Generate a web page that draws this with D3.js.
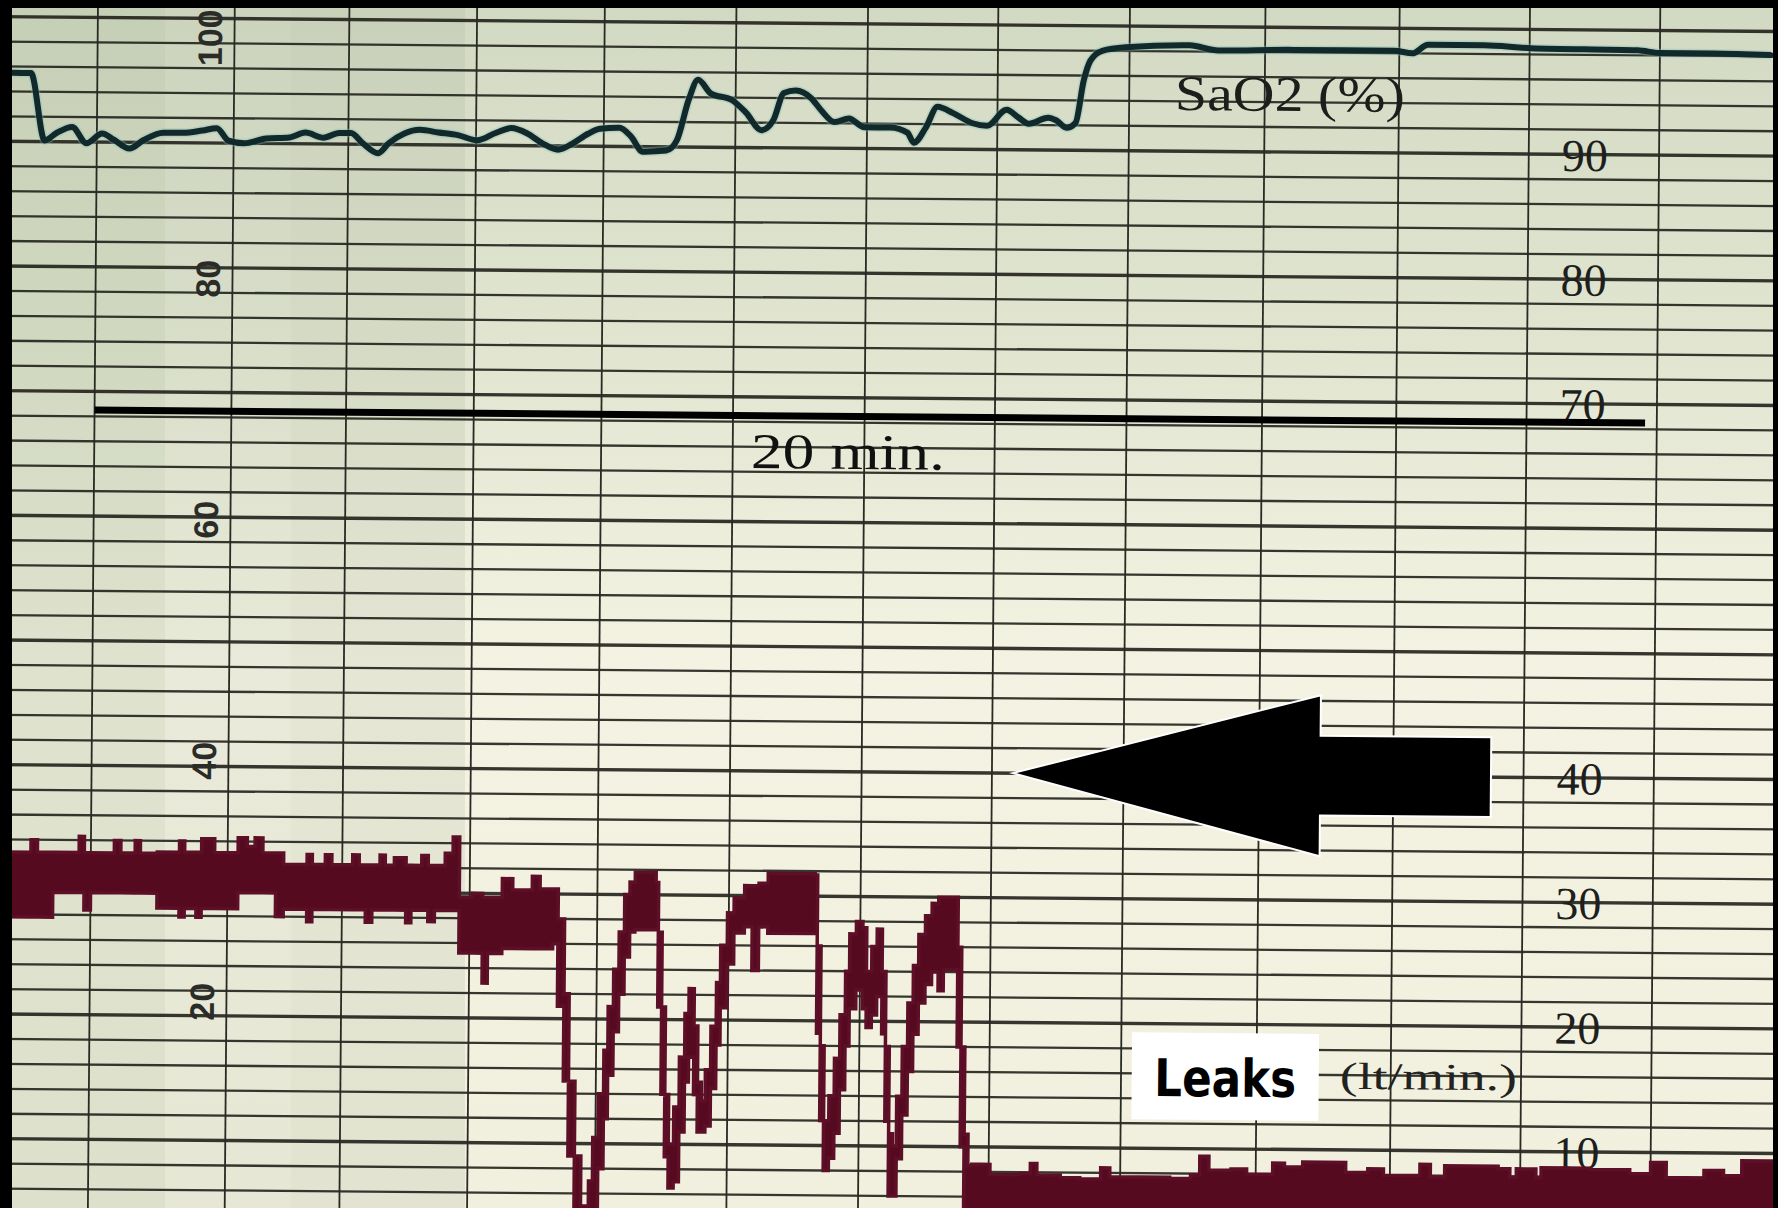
<!DOCTYPE html>
<html>
<head>
<meta charset="utf-8">
<script src="https://cdn.jsdelivr.net/npm/d3@7"></script>
<style>
  html, body { margin: 0; padding: 0; background: #000; }
  svg { display: block; }
</style>
</head>
<body>
<div id="chart"></div>
<script>
'use strict';

// time is in chart divisions (vertical grid lines), values on the recorder's 0-100 scale
const gridTimes = [0, 1.05, 1.93, 2.91, 3.89, 4.90, 5.91, 6.91, 7.92, 8.96, 9.99, 10.99, 11.99];

const sao2Time = [-0.65, -0.51, -0.40, -0.31, -0.19, -0.08, 0.04, 0.13, 0.25, 0.36, 0.51, 0.66, 0.81, 0.92,
    1.01, 1.13, 1.30, 1.48, 1.60, 1.74, 1.86, 1.95, 2.04, 2.16, 2.24, 2.36, 2.48, 2.62, 2.77, 2.92,
    3.06, 3.18, 3.30, 3.42, 3.54, 3.65, 3.77, 3.86, 4.01, 4.10, 4.19, 4.37, 4.45, 4.54, 4.61, 4.71, 4.87, 4.98,
    5.10, 5.19, 5.27, 5.36, 5.48, 5.56, 5.66, 5.77, 5.89, 6.09, 6.22, 6.27, 6.36, 6.45, 6.57, 6.72, 6.83, 6.98,
    7.07, 7.15, 7.30, 7.36, 7.44, 7.51, 7.57, 7.62, 7.71, 7.89, 8.38, 8.60, 9.18, 9.95,
    10.09, 10.21, 10.64, 11.00, 11.82, 11.99, 12.40, 12.84];
const sao2Value = [95.5, 95.5, 90.1, 90.7, 91.2, 89.9, 90.7, 90.2, 89.5, 90.2, 90.8, 90.8, 91.0, 91.2,
    90.2, 90.0, 90.4, 90.5, 90.9, 90.5, 90.9, 90.9, 90.1, 89.3, 90.1, 90.9, 91.2, 91.0, 90.8, 90.4,
    91.0, 91.4, 91.0, 90.2, 89.7, 90.2, 91.0, 91.4, 91.5, 90.8, 89.6, 89.7, 90.5, 93.8, 95.4, 94.3, 93.8, 92.8,
    91.4, 92.2, 94.4, 94.6, 94.0, 93.0, 92.1, 92.4, 91.7, 91.7, 91.3, 90.5, 91.7, 93.4, 92.9, 92.1, 91.9, 93.2,
    92.6, 92.1, 92.6, 92.4, 91.8, 92.2, 95.6, 97.2, 98.0, 98.3, 98.5, 98.1, 98.2, 98.2,
    98.0, 98.7, 98.7, 98.5, 98.4, 98.2, 98.2, 98.1];

// leak trace: upper and lower edge of the recorded band
const leakTime = [-0.66, -0.46, -0.41, -0.29, -0.09, -0.05, 0.00, 0.18, 0.23, 0.34, 0.38,
    0.51, 0.68, 0.72, 0.81, 0.85, 0.95, 1.13, 1.20, 1.26, 1.32, 1.42,
    1.48, 1.66, 1.70, 1.80, 1.85, 2.01, 2.06, 2.11, 2.16, 2.22, 2.26, 2.33, 2.42, 2.46, 2.54, 2.59, 2.64, 2.72, 2.78,
    2.83, 2.93, 3.01, 3.05, 3.16, 3.24, 3.39, 3.45, 3.55,
    3.59, 3.64, 3.68, 3.73, 3.78, 3.84, 3.87, 3.91, 3.95, 3.98, 4.02, 4.06, 4.10, 4.14, 4.18, 4.34,
    4.36, 4.39, 4.42, 4.45, 4.49, 4.53, 4.57, 4.60, 4.64, 4.67, 4.70, 4.73, 4.77, 4.81, 4.84, 4.89, 4.94,
    5.02, 5.08, 5.13, 5.20, 5.56, 5.58, 5.61, 5.64, 5.68, 5.72, 5.76, 5.80, 5.83, 5.88, 5.93, 5.96,
    6.00, 6.04, 6.08, 6.11, 6.14, 6.17, 6.20, 6.24, 6.28, 6.32, 6.36, 6.41, 6.46, 6.51, 6.55,
    6.66, 6.69, 6.72, 6.75, 6.78, 6.85, 6.92, 7.15, 7.23, 7.28, 7.46, 7.61, 7.77, 7.84, 8.07, 8.30,
    8.46, 8.53, 8.60, 8.77, 8.89, 9.09, 9.18, 9.32, 9.65, 9.82, 9.94, 10.22, 10.30, 10.41, 10.82, 10.91,
    10.96, 11.11, 11.15, 11.53, 11.83, 11.99, 12.11, 12.40, 12.55, 12.69, 12.89, 13.0];
const leakHigh = [33.0, 34.0, 33.0, 33.0, 34.3, 33.0, 33.0, 34.0, 33.0, 34.0, 33.0,
    33.1, 34.0, 33.1, 33.1, 34.2, 33.1, 34.3, 33.6, 34.3, 33.1, 33.1,
    32.2, 33.0, 32.2, 33.0, 32.2, 33.0, 32.2, 32.2, 32.2, 33.0, 32.2, 32.8, 32.2, 32.2, 33.0, 32.2, 32.2, 33.2, 34.5,
    29.7, 30.0, 29.7, 29.7, 31.2, 30.3, 31.4, 30.4, 30.4,
    28.0, 22.0, 15.0, 9.0, 5.0, 7.0, 10.5, 14.0, 17.5, 21.0, 24.0, 27.0, 30.0, 31.0, 31.8, 31.0,
    27.0, 21.0, 14.0, 10.0, 13.0, 17.0, 20.5, 22.5, 19.5, 15.0, 13.5, 16.0, 19.5, 23.0, 26.0, 28.6, 29.8,
    30.8, 30.8, 31.0, 31.8, 31.7, 26.0, 18.0, 12.0, 14.0, 17.0, 20.5, 24.0, 27.0, 28.0, 27.5, 24.0,
    26.0, 27.4, 24.0, 18.0, 11.0, 10.0, 14.0, 18.0, 21.5, 24.5, 27.0, 28.5, 29.5, 30.0, 30.0,
    26.0, 18.0, 11.0, 8.5, 8.6, 8.6, 7.8, 7.9, 8.7, 7.8, 7.6, 7.5, 8.4, 7.7, 7.7, 7.6,
    7.9, 9.4, 8.3, 8.4, 8.0, 8.9, 8.6, 9.0, 8.2, 8.5, 8.0, 8.9, 7.9, 8.8, 8.6, 7.9,
    8.6, 7.9, 8.7, 8.6, 8.3, 9.2, 8.0, 8.6, 8.2, 9.4, 9.4, 9.4];
const leakLow = [27.8, 27.8, 27.8, 29.8, 29.8, 28.4, 29.8, 29.8, 29.8, 29.8, 29.8,
    28.6, 27.9, 28.6, 27.9, 28.6, 28.6, 29.9, 29.9, 29.9, 29.9, 28.0,
    28.6, 27.6, 28.6, 28.6, 28.6, 28.6, 28.6, 27.6, 28.6, 28.6, 28.6, 28.6, 27.6, 28.6, 28.6, 27.7, 28.6, 28.6, 28.6,
    25.2, 25.2, 22.8, 25.2, 25.6, 25.6, 25.6, 25.6, 26.0,
    21.0, 15.0, 9.0, 4.0, 2.0, 2.0, 4.0, 8.0, 12.0, 15.5, 19.0, 22.0, 25.0, 27.0, 27.2, 27.2,
    21.0, 14.0, 9.0, 6.5, 7.0, 11.0, 15.0, 17.0, 14.0, 11.0, 11.0, 11.5, 14.5, 18.0, 21.0, 24.5, 27.0,
    27.5, 24.0, 27.5, 27.0, 27.0, 19.0, 12.0, 8.0, 9.0, 11.0, 14.5, 18.0, 21.0, 22.5, 21.0, 19.5,
    20.5, 22.0, 19.0, 12.0, 6.0, 6.0, 9.0, 12.5, 16.0, 19.0, 21.5, 23.0, 24.0, 22.5, 24.2,
    18.0, 10.0, 5.0, 3.0, 3.0, 3.0, 3.0, 3.0, 3.0, 3.0, 3.0, 3.0, 3.0, 3.0, 3.0, 3.0,
    3.0, 3.0, 3.0, 3.0, 3.0, 3.0, 3.0, 3.0, 3.0, 3.0, 3.0, 3.0, 3.0, 3.0, 3.0, 3.0,
    3.0, 3.0, 3.0, 3.0, 3.0, 3.0, 3.0, 3.0, 3.0, 3.0, 3.0, 3.0];

const leftTicks = [100, 80, 60, 40, 20];
const sao2Ticks = [90, 80, 70];
const leakTicks = [40, 30, 20, 10];

// annotations, in chart units
const timeBar = { from: 0, to: 11.9, value: 68.5, label: "20 min." };
const arrowMark = { tip: 7.07, value: 40, head: 9.43, tail: 10.74, headHalf: 6.46, shaftHalf: 3.2 };

const width = 1778;
const height = 1208;

const svg = d3.select("#chart")
    .append("svg")
    .attr("width", width)
    .attr("height", height);

const defs = svg.append("defs");
const paperGrad = defs.append("linearGradient")
    .attr("id", "paper")
    .attr("x1", 0).attr("y1", 0).attr("x2", 0).attr("y2", 1);
paperGrad.append("stop").attr("offset", "0%").attr("stop-color", "#d2d9c3");
paperGrad.append("stop").attr("offset", "30%").attr("stop-color", "#e2e6d1");
paperGrad.append("stop").attr("offset", "55%").attr("stop-color", "#f4f3e3");
paperGrad.append("stop").attr("offset", "100%").attr("stop-color", "#f1f0de");

// paper
svg.append("rect")
    .attr("x", 0).attr("y", 0)
    .attr("width", width).attr("height", height)
    .attr("fill", "url(#paper)");

// greyer spliced strips on the left of the photo
svg.append("rect").attr("x", 12).attr("y", 0).attr("width", 153).attr("height", height)
    .attr("fill", "#9fae90").attr("opacity", 0.24);
svg.append("rect").attr("x", 165).attr("y", 0).attr("width", 126).attr("height", height)
    .attr("fill", "#9fae90").attr("opacity", 0.12);
svg.append("rect").attr("x", 291).attr("y", 0).attr("width", 174).attr("height", height)
    .attr("fill", "#9fae90").attr("opacity", 0.18);

const x = d3.scaleLinear().domain([0, 12]).range([98, 1661.6]);
const y = d3.scaleLinear().domain([0, 100]).range([1263.3, 16.6]);
const yLeft = d3.scaleLinear().domain([20, 100]).range([1000, 36]);

// the photographed sheet is a little tilted
const chart = svg.append("g").attr("transform", "rotate(0.48)");

// horizontal grid
chart.append("g")
    .attr("class", "grid-h")
    .selectAll("line")
    .data(d3.range(0, 102, 2))
    .join("line")
    .attr("x1", -40)
    .attr("x2", width + 40)
    .attr("y1", d => y(d))
    .attr("y2", d => y(d))
    .attr("stroke", "#22221c")
    .attr("stroke-width", d => d % 10 === 0 ? 3.4 : 2.3)
    .attr("opacity", 0.9);

// vertical grid
chart.append("g")
    .attr("class", "grid-v")
    .selectAll("line")
    .data(gridTimes)
    .join("line")
    .attr("x1", d => x(d))
    .attr("x2", d => x(d))
    .attr("y1", -30)
    .attr("y2", height + 30)
    .attr("stroke", "#2a2a24")
    .attr("stroke-width", 1.8);

// left printed scale
chart.append("g")
    .selectAll("text")
    .data(leftTicks)
    .join("text")
    .attr("transform", d => `translate(${x(0.86)},${yLeft(d)}) rotate(-90)`)
    .attr("text-anchor", "middle")
    .attr("dy", "0.36em")
    .attr("font-family", "'Liberation Sans', Arial, sans-serif")
    .attr("font-weight", "bold")
    .attr("font-size", 34)
    .attr("fill", "#2b2b28")
    .text(d => d);

// right printed scales
chart.append("g")
    .selectAll("text")
    .data(sao2Ticks.concat(leakTicks))
    .join("text")
    .attr("x", x(11.42))
    .attr("y", d => y(d))
    .attr("dy", "0.36em")
    .attr("text-anchor", "middle")
    .attr("font-family", "'Liberation Serif', 'Times New Roman', serif")
    .attr("font-size", 46)
    .attr("fill", "#1e1e1c")
    .text(d => d);

// leak band
const leakData = leakTime.map((t, i) => ({ t: t, hi: leakHigh[i], lo: leakLow[i] }));
const leakArea = d3.area()
    .x(d => x(d.t))
    .y0(d => y(d.lo))
    .y1(d => y(d.hi))
    .curve(d3.curveStepAfter);

chart.append("path")
    .datum(leakData)
    .attr("d", leakArea)
    .attr("fill", "#560a20")
    .attr("stroke", "#5e0f28")
    .attr("stroke-width", 3.5)
    .attr("stroke-linejoin", "miter");

// SaO2 trace
const sao2Data = sao2Time.map((t, i) => ({ t: t, v: sao2Value[i] }));
const sao2Line = d3.line()
    .x(d => x(d.t))
    .y(d => y(d.v))
    .curve(d3.curveMonotoneX);

chart.append("path")
    .datum(sao2Data)
    .attr("d", sao2Line)
    .attr("fill", "none")
    .attr("stroke", "#7fbcb8")
    .attr("stroke-width", 9)
    .attr("opacity", 0.35);
chart.append("path")
    .datum(sao2Data)
    .attr("d", sao2Line)
    .attr("fill", "none")
    .attr("stroke", "#11292a")
    .attr("stroke-width", 6)
    .attr("stroke-linejoin", "round")
    .attr("stroke-linecap", "round");

// labels on the sheet
chart.append("text")
    .attr("x", x(8.27))
    .attr("y", y(93.3))
    .attr("font-family", "'Liberation Serif', 'Times New Roman', serif")
    .attr("font-size", 50)
    .attr("textLength", 230)
    .attr("lengthAdjust", "spacingAndGlyphs")
    .attr("fill", "#1d1d1b")
    .text("SaO2 (%)");

chart.append("text")
    .attr("x", x(9.6))
    .attr("y", y(14.9))
    .attr("font-family", "'Liberation Serif', 'Times New Roman', serif")
    .attr("font-size", 38)
    .attr("textLength", 177)
    .attr("lengthAdjust", "spacingAndGlyphs")
    .attr("fill", "#222220")
    .text("(lt/min.)");

// 20 minute bar
chart.append("line")
    .attr("x1", x(timeBar.from))
    .attr("x2", x(timeBar.to))
    .attr("y1", y(timeBar.value))
    .attr("y2", y(timeBar.value))
    .attr("stroke", "#000")
    .attr("stroke-width", 7);

chart.append("text")
    .attr("x", x(5.04))
    .attr("y", y(64.3))
    .attr("font-family", "'Liberation Serif', 'Times New Roman', serif")
    .attr("font-size", 50)
    .attr("textLength", 194)
    .attr("lengthAdjust", "spacingAndGlyphs")
    .attr("fill", "#111")
    .text(timeBar.label);

// arrow pointing at the end of the leaks
const a = arrowMark;
const arrowPts = [
    [a.tip, a.value],
    [a.head, a.value + a.headHalf],
    [a.head, a.value + a.shaftHalf],
    [a.tail, a.value + a.shaftHalf],
    [a.tail, a.value - a.shaftHalf],
    [a.head, a.value - a.shaftHalf],
    [a.head, a.value - a.headHalf]
];
chart.append("path")
    .attr("d", d3.line().x(d => x(d[0])).y(d => y(d[1]))(arrowPts) + "Z")
    .attr("fill", "#000")
    .attr("stroke", "#fff")
    .attr("stroke-width", 2)
    .attr("stroke-linejoin", "miter");

// "Leaks" box
const leaksBox = chart.append("g")
    .attr("transform", `translate(${x(8.72)},${y(15.8)})`);
leaksBox.append("rect")
    .attr("x", -93.5)
    .attr("y", -43.5)
    .attr("width", 187)
    .attr("height", 87)
    .attr("fill", "#fff");
leaksBox.append("text")
    .attr("x", 0)
    .attr("y", 20)
    .attr("text-anchor", "middle")
    .attr("font-family", "'Comic Sans MS', 'DejaVu Sans', sans-serif")
    .attr("font-weight", "bold")
    .attr("font-size", 52)
    .attr("textLength", 142)
    .attr("lengthAdjust", "spacingAndGlyphs")
    .attr("fill", "#000")
    .text("Leaks");

// black photo frame
svg.append("rect").attr("x", 0).attr("y", 0).attr("width", width).attr("height", 8).attr("fill", "#000");
svg.append("rect").attr("x", 0).attr("y", 0).attr("width", 12).attr("height", height).attr("fill", "#000");
svg.append("rect").attr("x", width - 5).attr("y", 0).attr("width", 5).attr("height", height).attr("fill", "#000");
</script>
</body>
</html>
